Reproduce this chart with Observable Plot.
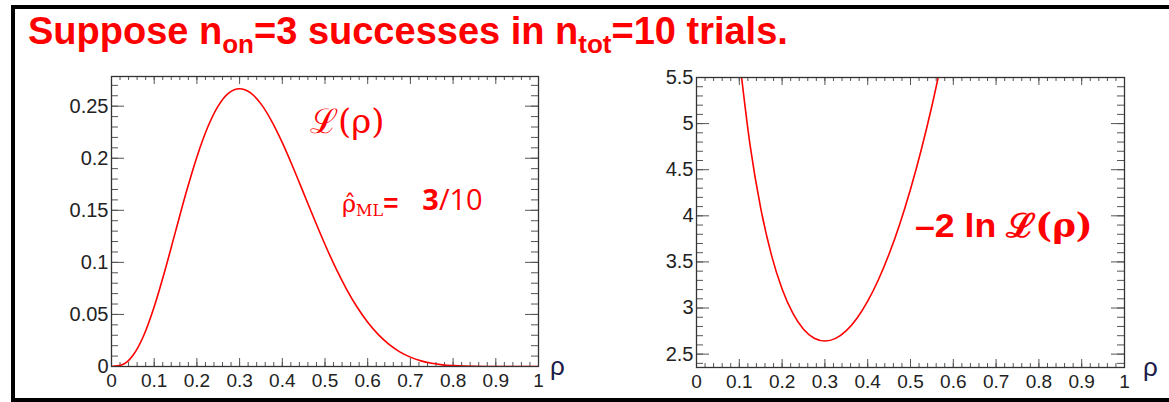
<!DOCTYPE html>
<html><head><meta charset="utf-8">
<script src="https://cdn.jsdelivr.net/npm/d3@7"></script>
<script src="https://cdn.jsdelivr.net/npm/@observablehq/plot@0.6"></script>
<style>
body{margin:0;background:#fff;}
#wrap{position:relative;width:1169px;height:402px;overflow:hidden;background:#fff;font-family:"Liberation Sans",Arial,sans-serif;}
#border{position:absolute;left:11px;top:5px;width:1200px;height:397px;box-sizing:border-box;border:4px solid #000;border-right:none;}
.abs{position:absolute;white-space:nowrap;color:#ff0000;line-height:1;}
#title{left:28px;top:12px;font-weight:bold;font-size:38px;}
#title .sub{font-size:26px;position:relative;top:9px;}
.plot{position:absolute;top:0;}
#lrho{left:310px;top:104px;font-family:"DejaVu Serif",serif;font-size:34px;}
#rhat{left:342px;top:186px;font-family:"DejaVu Serif",serif;font-size:24px;}
#rhat .ml{font-size:16px;position:relative;top:4px;}
#rhat .eq{font-family:"Liberation Sans",Arial,sans-serif;font-weight:bold;font-size:26px;}
#rhat .num{font-family:"Open Sans",sans-serif;font-size:29px;margin-left:24px;position:relative;top:-2px;}
#nll{left:915px;top:209px;font-weight:bold;font-size:33px;transform:scaleX(1.08);transform-origin:0 0;}
#nll .L{font-family:"DejaVu Serif",serif;font-weight:bold;}
</style></head>
<body>
<div id="wrap">
  <div id="border"></div>
  <div id="title" class="abs">Suppose n<span class="sub">on</span>=3 successes in n<span class="sub">tot</span>=10 trials.</div>
  <div id="left" class="plot" style="left:0px"></div>
  <div id="right" class="plot" style="left:585px"></div>
  <div id="lrho" class="abs">ℒ(ρ)</div>
  <div id="rhat" class="abs">ρ̂<span class="ml">ML</span><span class="eq">=</span><span class="num"><b>3</b>/10</span></div>
  <div id="nll" class="abs">–2 ln <span class="L">ℒ(ρ)</span></div>
</div>
<script>
// ---- data ----
const rho = [0,0.025,0.05,0.075,0.1,0.125,0.15,0.175,0.2,0.225,0.25,0.275,0.3,0.325,0.35,0.375,0.4,0.425,0.45,0.475,0.5,0.525,0.55,0.575,0.6,0.625,0.65,0.675,0.7,0.725,0.75,0.775,0.8,0.85,0.9,0.95,1];
const likelihood = [0,0.0016,0.0105,0.0293,0.0574,0.092,0.1298,0.1673,0.2013,0.2295,0.2503,0.2628,0.2668,0.263,0.2522,0.2357,0.215,0.1914,0.1665,0.1414,0.1172,0.0947,0.0746,0.0571,0.0425,0.0306,0.0212,0.0141,0.009,0.0054,0.0031,0.0016,0.0008,0.0001,0,0,0];
const rhoR = [0.1,0.125,0.15,0.175,0.2,0.225,0.25,0.275,0.3,0.325,0.35,0.375,0.4,0.425,0.45,0.475,0.5,0.525,0.55,0.575];
const negTwoLnL = [5.716,4.772,4.084,3.576,3.206,2.944,2.77,2.673,2.643,2.671,2.755,2.89,3.074,3.307,3.586,3.912,4.288,4.714,5.191,5.726];
const xTicks = [0,0.1,0.2,0.3,0.4,0.5,0.6,0.7,0.8,0.9,1];
const xTickLabels = ["0","0.1","0.2","0.3","0.4","0.5","0.6","0.7","0.8","0.9","1"];
const yTicksL = [0,0.05,0.1,0.15,0.2,0.25];
const yTickLabelsL = ["0","0.05","0.1","0.15","0.2","0.25"];
const yTicksR = [2.5,3,3.5,4,4.5,5,5.5];
const yTickLabelsR = ["2.5","3","3.5","4","4.5","5","5.5"];

const FONT = "'Liberation Sans', Arial, sans-serif";
const tickColor = "#555";

function panel({data, xDomain, yDomain, yTicks, yLabels, yMinor, W, H, mL, mR, mT, mB, rhoDx}) {
  const iW = W - mL - mR, iH = H - mT - mB;
  const xMinor = d3.range(0, 51).map(i => i / 50);
  return Plot.plot({
    width: W, height: H, marginLeft: mL, marginRight: mR, marginTop: mT, marginBottom: mB,
    style: {fontFamily: FONT, color: "#222", background: "transparent", overflow: "visible"},
    x: {domain: xDomain, axis: null},
    y: {domain: yDomain, axis: null},
    marks: [
      Plot.tickY(yMinor, {y: d => d, insetRight: iW - 7, stroke: tickColor}),
      Plot.tickY(yMinor, {y: d => d, insetLeft: iW - 7, stroke: tickColor}),
      Plot.tickX(xMinor, {x: d => d, insetTop: iH - 4, stroke: tickColor}),
      Plot.tickX(xMinor, {x: d => d, insetBottom: iH - 4, stroke: tickColor}),
      Plot.tickY(yTicks, {y: d => d, insetRight: iW - 13, stroke: tickColor}),
      Plot.tickY(yTicks, {y: d => d, insetLeft: iW - 13, stroke: tickColor}),
      Plot.tickX(xTicks, {x: d => d, insetTop: iH - 8, stroke: tickColor}),
      Plot.tickX(xTicks, {x: d => d, insetBottom: iH - 8, stroke: tickColor}),
      Plot.text(xTicks, {x: d => d, text: (d, i) => xTickLabels[i], frameAnchor: "bottom", lineAnchor: "top", dy: 6.5, fontSize: 19, fill: "#222"}),
      Plot.text(yTicks, {y: d => d, text: (d, i) => yLabels[i], frameAnchor: "left", textAnchor: "end", lineAnchor: "middle", dx: -3, fontSize: 20, fill: "#222"}),
      Plot.line(data, {x: "r", y: "v", stroke: "#ff0000", strokeWidth: 1.6, curve: "monotone-x", clip: true}),
      Plot.frame({stroke: "#333", strokeWidth: 1.3}),
      Plot.text(["ρ"], {frameAnchor: "bottom-right", dx: rhoDx, dy: 0, fontSize: 26, fill: "#1c1c48", textAnchor: "middle", lineAnchor: "middle"})
    ]
  });
}

document.getElementById("left").append(panel({
  data: rho.map((r, i) => ({r, v: likelihood[i]})),
  xDomain: [0, 1], yDomain: [0, 0.2785],
  yTicks: yTicksL, yLabels: yTickLabelsL, yMinor: d3.range(0, 28).map(i => i / 100),
  W: 588, H: 402, mL: 111, mR: 50, mT: 76, mB: 36, rhoDx: 19
}));
document.getElementById("right").append(panel({
  data: rhoR.map((r, i) => ({r, v: negTwoLnL[i]})),
  xDomain: [0, 1], yDomain: [2.355, 5.5],
  yTicks: yTicksR, yLabels: yTickLabelsR, yMinor: d3.range(24, 56).map(i => i / 10),
  W: 584, H: 402, mL: 111, mR: 45, mT: 77, mB: 35, rhoDx: 26
}));
</script>
</body></html>
